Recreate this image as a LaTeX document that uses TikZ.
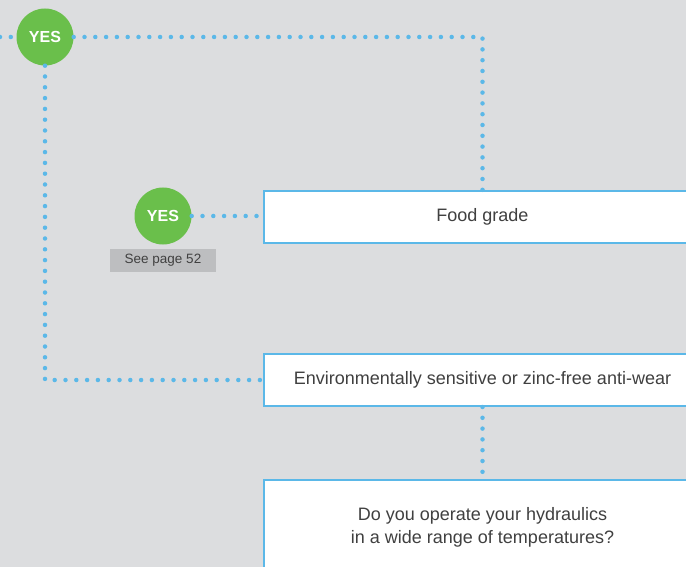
\documentclass[tikz,border=0pt]{standalone}
\usepackage{fontspec}
\setmainfont{Liberation Sans}
\usetikzlibrary{positioning}
\definecolor{bggray}{HTML}{DCDDDF}
\definecolor{yesgreen}{HTML}{6ABF4B}
\definecolor{linkblue}{HTML}{5BB8E8}
\definecolor{notegray}{HTML}{BDBEC0}
\definecolor{textgray}{HTML}{404040}
\begin{document}
\begin{tikzpicture}
[
    x=1pt, y=-1pt,
    yesdot/.style={circle, fill=yesgreen, minimum size=57pt, inner sep=0pt,
        text=white, font=\bfseries\fontsize{16}{16}\selectfont},
    answerbox/.style={rectangle, draw=linkblue, line width=2pt, fill=white,
        minimum width=437pt, anchor=west, text=textgray, align=center,
        font=\fontsize{18}{23}\selectfont},
    notebox/.style={rectangle, fill=notegray, minimum width=106pt, minimum height=23pt,
        inner sep=0pt, text=textgray, font=\fontsize{13.5}{14}\selectfont},
    dots/.style={linkblue, line width=4.5pt, line cap=round,
        dash pattern=on 0pt off 10.8pt},
]
\fill [bggray] (0,0) rectangle (686,567);
\useasboundingbox (0,0) rectangle (686,567);
% answer boxes
\node [answerbox, minimum height=52pt] (food) at (263,217) {Food grade};
\node [answerbox, minimum height=52pt] (env) at (263,380)
    {Environmentally sensitive or zinc-free anti-wear};
\node [answerbox, minimum height=94pt] (temp) at (263,527)
    {Do you operate your hydraulics\\in a wide range of temperatures?};
% yes markers
\node [yesdot] (yes1) at (45,37) {YES};
\node [yesdot] (yes2) at (163,216) {YES};
\node [notebox, below=4pt of yes2] (page) {See page 52};
\coordinate (entry) at (0,37);
% links
\draw [dots] (entry) -- (yes1.west);
\draw [dots] (yes1.east) -- (yes1.east -| food.north) -- (food.north);
\draw [dots] (yes1.south) -- (yes1.south |- env.west) -- (env.west);
\draw [dots] (yes2.east) -- (yes2.east -| food.west);
\draw [dots] (env.south) -- (temp.north);
\end{tikzpicture}
\end{document}
